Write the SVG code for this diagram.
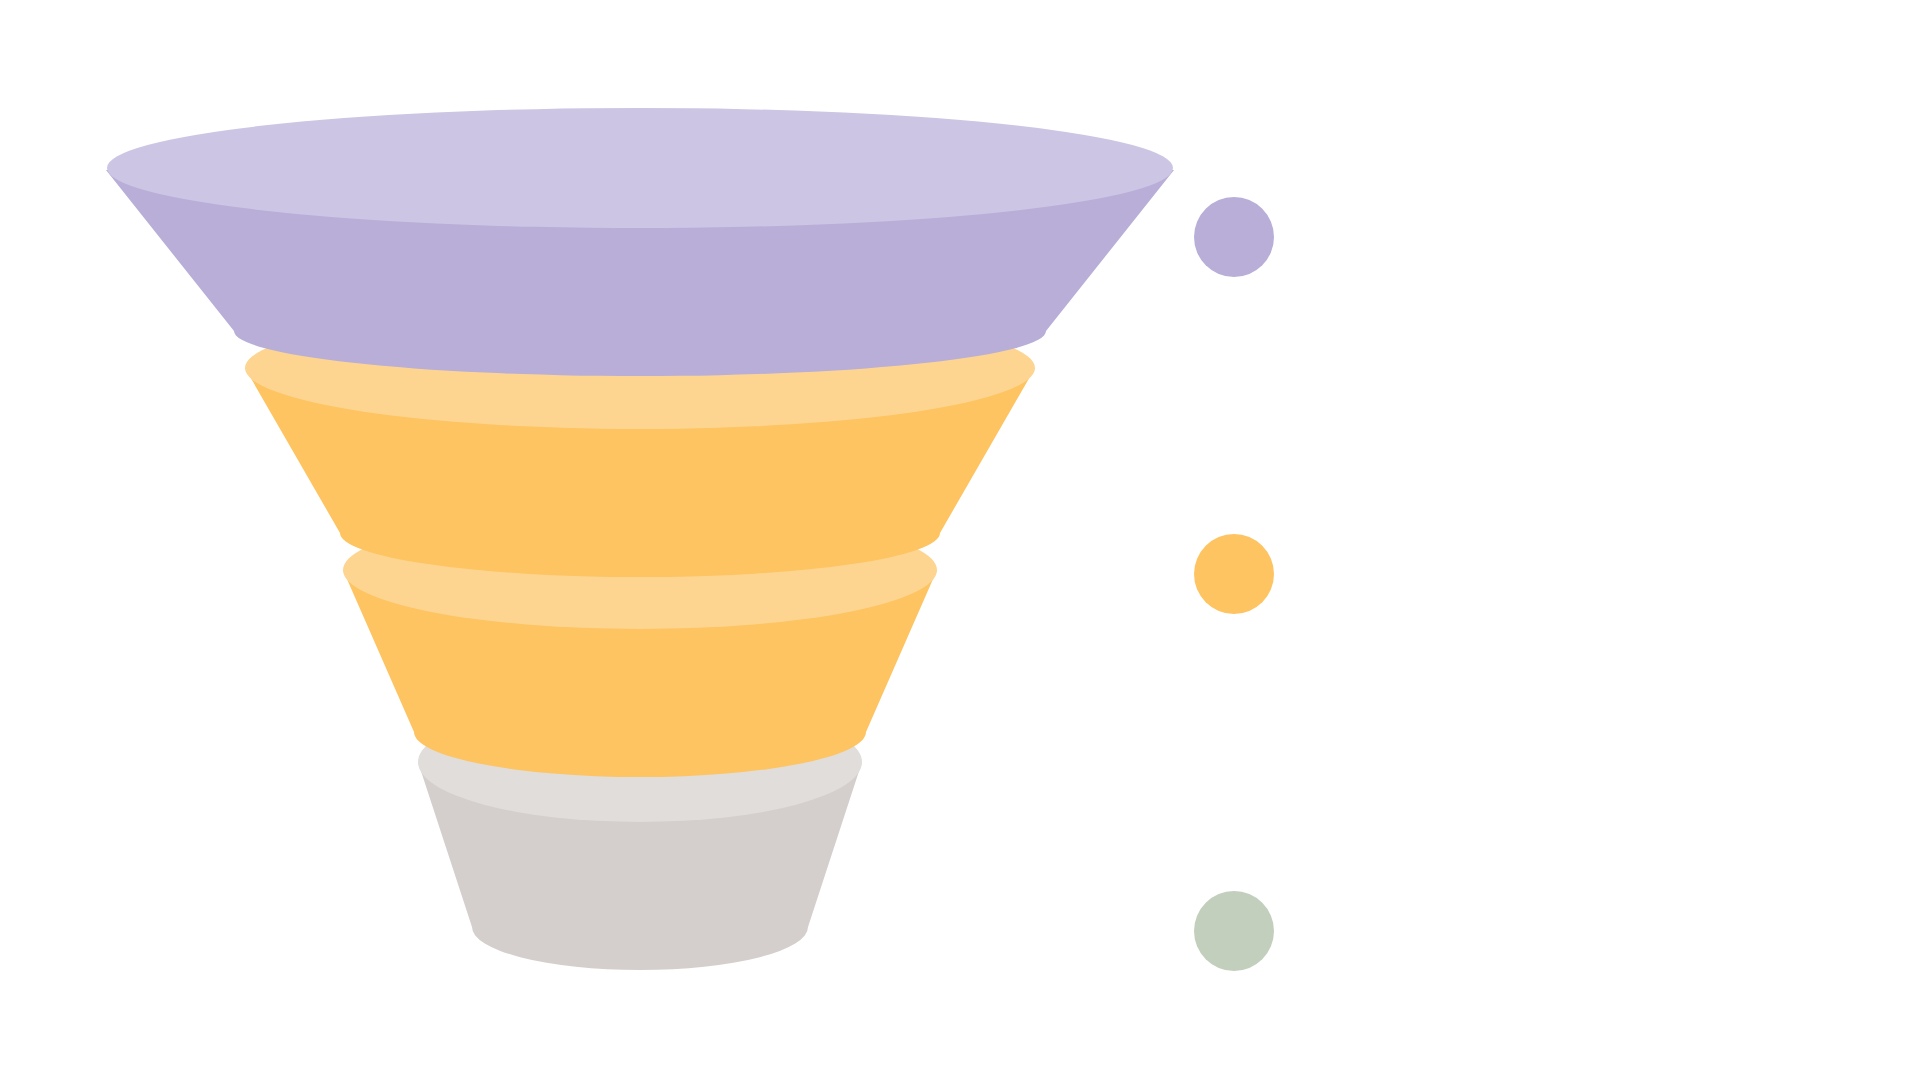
<svg xmlns="http://www.w3.org/2000/svg" width="1920" height="1080" viewBox="0 0 1920 1080">
<style>
.p-top{fill:#CDC5E4}.p-body{fill:#B8AED8}
.o-top{fill:#FDD591}.o-body{fill:#FDC461}
.g-top{fill:#E0DDDA}.g-body{fill:#D4CFCC}
.dot-p{fill:#B8AED8}.dot-o{fill:#FDC461}.dot-g{fill:#C2CFBD}
</style>
<rect width="1920" height="1080" fill="#FFFFFF"/>
<g id="stage-4">
  <path class="g-body" d="M418 762 L472 927 A168 43 0 0 0 808 927 L862 762 Z"/>
  <ellipse class="g-top" cx="640" cy="762" rx="222" ry="60"/>
</g>
<g id="stage-3">
  <path class="o-body" d="M343 570 L414 732 A226 45 0 0 0 866 732 L937 570 Z"/>
  <ellipse class="o-top" cx="640" cy="570" rx="297" ry="59"/>
</g>
<g id="stage-2">
  <path class="o-body" d="M245 368 L340 533 A300 44 0 0 0 940 533 L1035 368 Z"/>
  <ellipse class="o-top" cx="640" cy="368" rx="395" ry="61"/>
</g>
<g id="stage-1">
  <path class="p-body" d="M106 170 L234 331 A406 45 0 0 0 1046 331 L1174 170 Z"/>
  <ellipse class="p-top" cx="640" cy="168" rx="533" ry="60"/>
</g>
<g id="marker-1"><circle class="dot-p" cx="1234" cy="237" r="40"/></g>
<g id="marker-2"><circle class="dot-o" cx="1234" cy="574" r="40"/></g>
<g id="marker-3"><circle class="dot-g" cx="1234" cy="931" r="40"/></g>
</svg>
